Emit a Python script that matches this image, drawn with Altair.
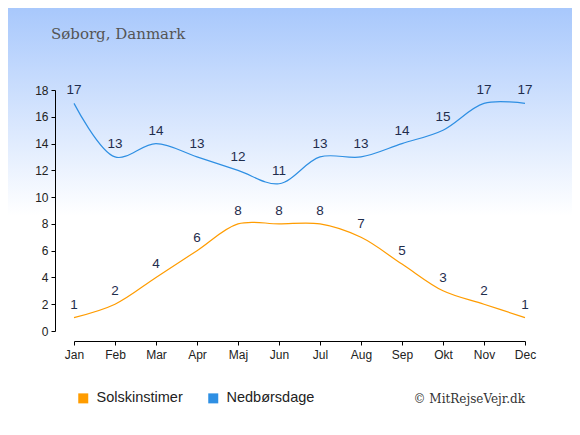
import altair as alt
import pandas as pd

months = ["Jan", "Feb", "Mar", "Apr", "Maj", "Jun", "Jul", "Aug", "Sep", "Okt", "Nov", "Dec"]
sun = [1, 2, 4, 6, 8, 8, 8, 7, 5, 3, 2, 1]
rain = [17, 13, 14, 13, 12, 11, 13, 13, 14, 15, 17, 17]
series = ["Solskinstimer", "Nedbørsdage"]
colors = ["#ff9c00", "#2e8fe3"]
y_ticks = list(range(0, 19, 2))
title_text = "Søborg, Danmark"
credit_text = "© MitRejseVejr.dk"

rows = []
for s, vals in zip(series, [sun, rain]):
    for m, v in zip(months, vals):
        rows.append({"month": m, "value": v, "series": s})
df = pd.DataFrame(rows)

W, H = 451, 241
PL, PT, PR, PB = 66, 82, 47, 92

x = alt.X(
    "month:O", sort=months,
    scale=alt.Scale(type="point", padding=0),
    axis=alt.Axis(title=None, labelAngle=0, offset=10, tickSize=4, labelPadding=4,
                  domainColor="#000", tickColor="#000", labelColor="#222",
                  labelFont="Liberation Sans", labelFontSize=12, grid=False, zindex=1),
)
y = alt.Y(
    "value:Q",
    scale=alt.Scale(domain=[0, 18], nice=False),
    axis=alt.Axis(title=None, values=y_ticks, offset=19, tickSize=4, labelPadding=3,
                  domainColor="#000", tickColor="#000", labelColor="#222",
                  labelFont="Liberation Sans", labelFontSize=12, grid=False, zindex=1),
)
color = alt.Color(
    "series:N",
    scale=alt.Scale(domain=series, range=colors),
    legend=alt.Legend(title=None, orient="none", legendX=2, legendY=301, direction="horizontal",
                      symbolType="square", symbolSize=25, symbolStrokeWidth=5, symbolOpacity=1,
                      labelFont="Liberation Sans", labelFontSize=14.5, labelColor="#222",
                      columnPadding=17, labelOffset=6, zindex=1),
)

bg = alt.Chart(pd.DataFrame({"a": [0]})).mark_rect(
    clip=False,
    fill=alt.Gradient(
        gradient="linear",
        stops=[alt.GradientStop(offset=0, color="#a8c8fc"),
               alt.GradientStop(offset=0.5, color="#ffffff"),
               alt.GradientStop(offset=1, color="#ffffff")],
        x1=0, y1=0, x2=0, y2=1,
    ),
).encode(
    x=alt.value(-PL), x2=alt.value(W + PR),
    y=alt.value(-PT), y2=alt.value(H + PB),
)

base = alt.Chart(df)
lines = base.mark_line(interpolate="catmull-rom", strokeWidth=1.2).encode(x=x, y=y, color=color)
labels = base.mark_text(dy=-13, fontSize=13.5, font="Liberation Sans", color="#1f2d4d").encode(
    x=x, y=y, text="value:Q", detail="series:N"
)

title = alt.Chart(pd.DataFrame({"t": [title_text]})).mark_text(
    align="left", baseline="alphabetic", font="DejaVu Serif", fontSize=15, color="#555555"
).encode(x=alt.value(-23), y=alt.value(-51), text="t:N")

credit = alt.Chart(pd.DataFrame({"t": [credit_text]})).mark_text(
    align="right", baseline="alphabetic", font="DejaVu Serif", fontSize=12, color="#333333"
).encode(x=alt.value(W), y=alt.value(313), text="t:N")

chart = alt.layer(bg, lines, labels, title, credit).properties(
    width=W, height=H,
    autosize=alt.AutoSizeParams(type="none"),
    padding={"left": PL, "top": PT, "right": PR, "bottom": PB},
).configure_view(stroke="transparent")

chart.save("out.html", embed_options={"renderer": "svg", "actions": False})
